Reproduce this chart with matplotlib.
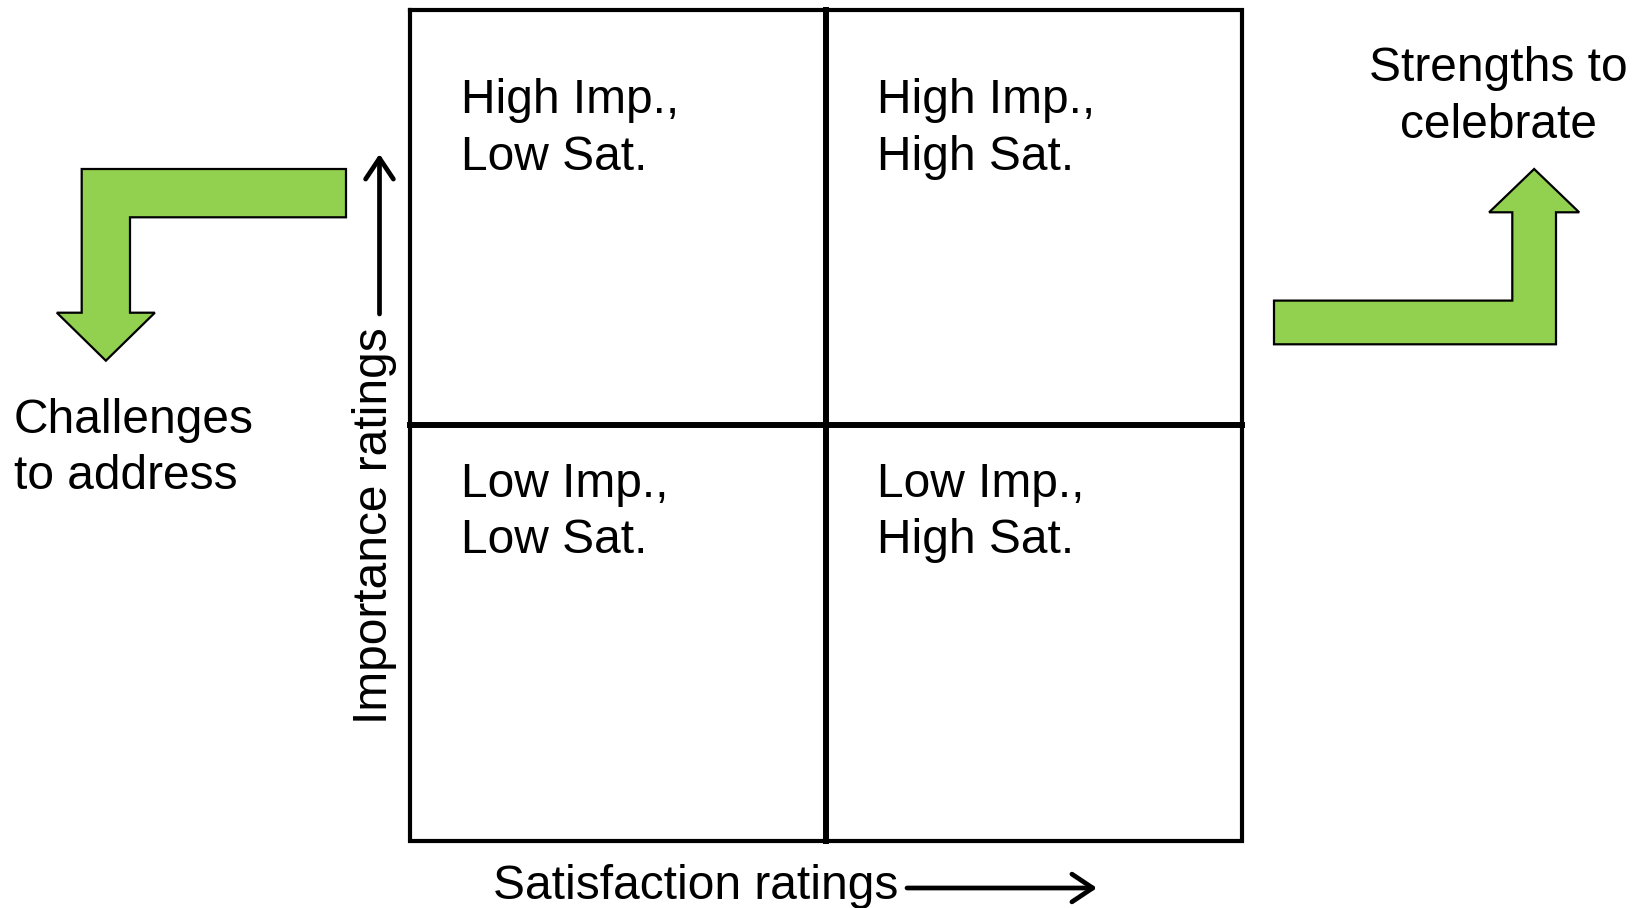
"""Importance / satisfaction quadrant diagram with the two green bent arrows."""

import matplotlib

matplotlib.use("Agg")
import matplotlib.pyplot as plt  # noqa: E402
from matplotlib.patches import Polygon  # noqa: E402

# --- content ---------------------------------------------------------------------
IMPORTANCE_LEVELS = ["High Imp.,", "Low Imp.,"]  # rows, top -> bottom
SATISFACTION_LEVELS = ["Low Sat.", "High Sat."]  # columns, left -> right
CHALLENGE_LABEL = ["Challenges", "to address"]
STRENGTH_LABEL = ["Strengths to", "celebrate"]
X_LABEL = "Satisfaction ratings"
Y_LABEL = "Importance ratings"

# --- layout (pixel space, y grows downward) --------------------------------------
W, H = 1644, 908
GRID_X = (410, 1242)
GRID_Y = (9.5, 841)
ROW_BASELINES = [(113, 170), (497, 553)]
COL_PAD = 51
FONT = ["Liberation Sans", "DejaVu Sans"]
FS = 34.5
GREEN = "#92D050"
AXIS_ARROW = "->,head_length=0.75,head_width=0.5"

plt.rcParams["font.family"] = FONT


def _lines(ax, x, baselines, lines, ha="left"):
    for y, s in zip(baselines, lines):
        ax.text(x, y, s, ha=ha, va="baseline", fontsize=FS, color="black")


def _bent_arrow(ax, elbow_x, bar_y, tip_y, shaft, head_half, head_len, direction):
    """L-shaped block arrow: horizontal bar ending at a vertical shaft + head.

    direction=+1 -> bar runs right from the elbow, head points down (left arrow);
    direction=-1 -> bar runs left from the elbow, head points up (right arrow).
    """
    if direction > 0:
        bar_end, x0, x1 = elbow_x[1], elbow_x[0], elbow_x[0] + shaft
        top, bot = bar_y, bar_y + shaft
        base = tip_y - head_len
    else:
        bar_end, x1, x0 = elbow_x[0], elbow_x[1], elbow_x[1] - shaft
        bot, top = bar_y, bar_y - shaft
        base = tip_y + head_len
    cx = (x0 + x1) / 2
    pts = [(bar_end, top), (x0, top), (x0, base), (cx - head_half, base),
           (cx, tip_y), (cx + head_half, base), (x1, base), (x1, bot),
           (bar_end, bot)]
    ax.add_patch(Polygon(pts, closed=True, facecolor=GREEN, edgecolor="black",
                         lw=1.6, joinstyle="miter"))


fig = plt.figure(figsize=(W / 100, H / 100), dpi=100)
ax = fig.add_axes([0, 0, 1, 1])
ax.set_xlim(0, W)
ax.set_ylim(H, 0)
ax.axis("off")

# quadrant grid
x_mid = 826
y_mid = 425
ax.plot([GRID_X[0], GRID_X[1], GRID_X[1], GRID_X[0], GRID_X[0]],
        [GRID_Y[0], GRID_Y[0], GRID_Y[1], GRID_Y[1], GRID_Y[0]],
        color="black", lw=3, solid_joinstyle="miter")
ax.plot([x_mid, x_mid], GRID_Y, color="black", lw=4.3)
ax.plot(GRID_X, [y_mid, y_mid], color="black", lw=4.3)

col_left = [GRID_X[0], x_mid]
for r, imp in enumerate(IMPORTANCE_LEVELS):
    for c, sat in enumerate(SATISFACTION_LEVELS):
        _lines(ax, col_left[c] + COL_PAD, ROW_BASELINES[r], [imp, sat])

# axis captions with plain arrows
ax.text(387, 526, Y_LABEL, rotation=90, rotation_mode="anchor", ha="center",
        va="baseline", fontsize=FS)
ax.annotate("", xy=(379.5, 154), xytext=(379.5, 314),
            arrowprops=dict(arrowstyle=AXIS_ARROW, lw=3.4, color="black",
                            mutation_scale=20, shrinkA=0, shrinkB=0,
                            capstyle="round", joinstyle="round"))
ax.text(493, 899, X_LABEL, ha="left", va="baseline", fontsize=FS)
ax.annotate("", xy=(1097, 888), xytext=(907, 888),
            arrowprops=dict(arrowstyle=AXIS_ARROW, lw=3.4, color="black",
                            mutation_scale=20, shrinkA=0, shrinkB=0,
                            capstyle="round", joinstyle="round"))

# green bent arrows and their captions
_bent_arrow(ax, (81.7, 346), 169, 360.7, 48.3, 49, 48, +1)
_bent_arrow(ax, (1274, 1556), 344.3, 169, 43.7, 45, 43.3, -1)
_lines(ax, 14, (433, 489), CHALLENGE_LABEL)
_lines(ax, 1498, (81, 138), STRENGTH_LABEL, ha="center")

fig.savefig("out.png", dpi=100)
